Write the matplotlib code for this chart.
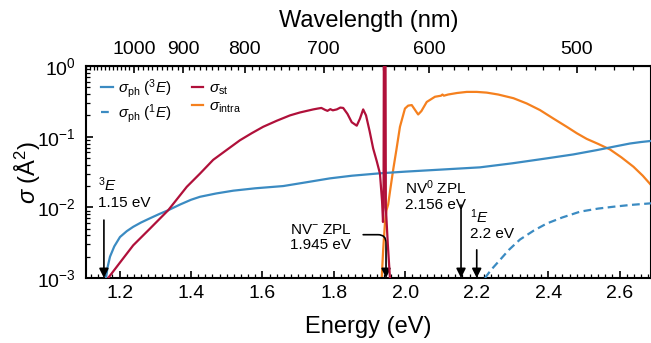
import numpy as np
import matplotlib
matplotlib.use("Agg")
import matplotlib.pyplot as plt
from matplotlib.ticker import MultipleLocator, LogLocator, NullFormatter

plt.rcParams['font.family'] = ['Liberation Sans', 'DejaVu Sans']
plt.rcParams['mathtext.fontset'] = 'custom'
plt.rcParams['mathtext.rm'] = 'Liberation Sans'
plt.rcParams['mathtext.it'] = 'Liberation Sans:italic'
plt.rcParams['mathtext.bf'] = 'Liberation Sans:bold'

# ---- data ----
ph3_E = [1.162, 1.166, 1.173, 1.185, 1.201, 1.22, 1.238, 1.26, 1.285, 1.31, 1.336, 1.37, 1.4, 1.425,
         1.47, 1.518, 1.58, 1.658, 1.72, 1.789, 1.85, 1.929, 2.0, 2.1, 2.209, 2.3, 2.396, 2.47, 2.536,
         2.583, 2.629, 2.66, 2.688]
ph3_s = [1.0e-3, 1.4e-3, 2.0e-3, 2.8e-3, 3.8e-3, 4.6e-3, 5.3e-3, 6.1e-3, 7.0e-3, 8.0e-3, 9.1e-3, 1.1e-2,
         1.28e-2, 1.41e-2, 1.57e-2, 1.72e-2, 1.86e-2, 2.0e-2, 2.25e-2, 2.57e-2, 2.8e-2, 3.03e-2, 3.2e-2,
         3.42e-2, 3.68e-2, 4.2e-2, 4.93e-2, 5.6e-2, 6.45e-2, 7.2e-2, 8.0e-2, 8.4e-2, 8.7e-2]

ph1_E = [2.223, 2.24, 2.265, 2.29, 2.321, 2.36, 2.396, 2.44, 2.49, 2.54, 2.583, 2.63, 2.688]
ph1_s = [1.0e-3, 1.3e-3, 1.8e-3, 2.5e-3, 3.5e-3, 4.7e-3, 5.9e-3, 7.2e-3, 8.7e-3, 9.6e-3, 1.02e-2,
         1.08e-2, 1.14e-2]

st_E = [1.164, 1.168, 1.2, 1.238, 1.285, 1.336, 1.388, 1.425, 1.462, 1.5, 1.537, 1.57, 1.602, 1.64,
        1.677, 1.705, 1.742, 1.755, 1.765, 1.775, 1.782, 1.79, 1.797, 1.808, 1.818, 1.826, 1.838, 1.85,
        1.864, 1.873, 1.882, 1.89, 1.9, 1.91, 1.92, 1.929, 1.935, 1.9375, 1.939, 1.940, 1.9445,
        1.9455, 1.951, 1.957, 1.96]
st_s = [8e-4, 1.0e-3, 1.63e-3, 2.9e-3, 5.0e-3, 9.1e-3, 1.95e-2, 3.0e-2, 4.7e-2, 6.5e-2, 8.9e-2, 0.112,
        0.138, 0.168, 0.20, 0.22, 0.243, 0.25, 0.255, 0.24, 0.232, 0.245, 0.236, 0.243, 0.258, 0.255,
        0.21, 0.16, 0.143, 0.18, 0.243, 0.2, 0.12, 0.068, 0.045, 0.03, 0.012, 6.2e-3, 1e-2, 2.0, 2.0,
        1e-2, 3e-3, 1e-3, 5e-4]

in_E = [1.933, 1.938, 1.943, 1.947, 1.952, 1.958, 1.966, 1.975, 1.985, 1.999, 2.008, 2.018, 2.027,
        2.036, 2.045, 2.06, 2.083, 2.1, 2.104, 2.108, 2.12, 2.145, 2.172, 2.2, 2.228, 2.26, 2.303, 2.34,
        2.377, 2.415, 2.452, 2.48, 2.508, 2.54, 2.573, 2.605, 2.639, 2.665, 2.688]
in_s = [8e-4, 2.5e-3, 6e-3, 9e-3, 1.1e-2, 1.8e-2, 3.4e-2, 6.5e-2, 0.138, 0.25, 0.275, 0.28, 0.24,
        0.206, 0.23, 0.31, 0.367, 0.38, 0.395, 0.38, 0.395, 0.415, 0.43, 0.43, 0.42, 0.395, 0.35, 0.295,
        0.238, 0.18, 0.138, 0.112, 0.093, 0.079, 0.066, 0.051, 0.0375, 0.028, 0.0207]

wl_major = [1000, 900, 800, 700, 600, 500]
wl_minor = list(range(450, 1130, 10))

blue = '#3b8bc2'
red = '#b0103a'
orange = '#f5801e'

fig = plt.figure(figsize=(6.51, 3.43), dpi=100)
ax = fig.add_axes([85.7/651, 1-278/343, (651-85.7)/651, 212/343])

ax.plot(ph3_E, ph3_s, color=blue, lw=1.6, label=r'$\sigma_{\rm ph}$ ($^3E$)', zorder=3)
ax.plot(ph1_E, ph1_s, color=blue, lw=1.6, ls=(0, (3.5, 2)), label=r'$\sigma_{\rm ph}$ ($^1E$)', zorder=3)
ax.plot(st_E, st_s, color=red, lw=1.6, label=r'$\sigma_{\rm st}$', zorder=4)
ax.plot(in_E, in_s, color=orange, lw=1.6, label=r'$\sigma_{\rm intra}$', zorder=2)

ax.set_yscale('log')
ax.set_xlim(1.105, 2.688)
ax.set_ylim(1e-3, 1)
ax.xaxis.set_major_locator(MultipleLocator(0.2))
ax.xaxis.set_minor_locator(MultipleLocator(0.02))
ax.yaxis.set_major_locator(LogLocator(base=10, numticks=10))
ax.yaxis.set_minor_locator(LogLocator(base=10, subs=np.arange(2, 10), numticks=20))
ax.yaxis.set_minor_formatter(NullFormatter())
ax.tick_params(axis='both', which='major', direction='in', length=5, width=1.2, labelsize=14)
ax.tick_params(axis='x', which='major', pad=5)
ax.tick_params(axis='y', which='major', pad=7)
ax.tick_params(axis='both', which='minor', direction='in', length=2.8, width=0.9)
ax.tick_params(axis='x', top=False)
for s in ax.spines.values():
    s.set_linewidth(1.5)

ax.set_xlabel('Energy (eV)', fontsize=17, labelpad=10)
ax.set_ylabel(r'$\sigma$ (Å$^2$)', fontsize=17, labelpad=-4)

# top wavelength axis
sec = ax.secondary_xaxis('top', functions=(lambda e: 1239.84 / np.maximum(e, 1e-6),
                                           lambda w: 1239.84 / np.maximum(w, 1e-6)))
sec.set_xticks(wl_major)
sec.set_xticklabels([str(w) for w in wl_major])
sec.set_xticks(wl_minor, minor=True)
sec.tick_params(which='major', direction='in', length=5, width=1.2, labelsize=14, pad=6)
sec.tick_params(which='minor', direction='in', length=2.8, width=0.9)
sec.set_xlabel('Wavelength (nm)', fontsize=17, labelpad=10)

leg = ax.legend(ncol=2, loc='upper left', bbox_to_anchor=(0.009, 0.998), frameon=False, fontsize=11,
                handlelength=0.75, handletextpad=0.35, columnspacing=1.3, labelspacing=0.15,
                borderaxespad=0.3)

# annotations
arrowkw = dict(arrowstyle='-|>', color='black', lw=1.2, mutation_scale=14, shrinkA=0, shrinkB=0)
ax.annotate('', xy=(1.156, 1e-3), xytext=(1.156, 6.6e-3), arrowprops=arrowkw)
ax.text(1.140, 9.3e-3, '$^3E$\n1.15 eV', fontsize=11, ha='left', va='bottom', linespacing=1.15)

ax.annotate('', xy=(1.946, 1e-3), xytext=(1.882, 4.1e-3),
            arrowprops=dict(arrowstyle='-|>', color='black', lw=1.2, mutation_scale=14,
                            shrinkA=0, shrinkB=0, connectionstyle='angle,angleA=0,angleB=90,rad=8'))
ax.text(1.678, 2.3e-3, 'NV$^{-}$ ZPL\n1.945 eV', fontsize=11, ha='left', va='bottom', linespacing=1.15)

ax.annotate('', xy=(2.156, 1e-3), xytext=(2.156, 1.08e-2), arrowprops=arrowkw)
ax.text(1.999, 8.5e-3, 'NV$^0$ ZPL\n2.156 eV', fontsize=11, ha='left', va='bottom', linespacing=1.15)

ax.annotate('', xy=(2.2, 1e-3), xytext=(2.2, 2.5e-3), arrowprops=arrowkw)
ax.text(2.181, 3.3e-3, '$^1E$\n2.2 eV', fontsize=11, ha='left', va='bottom', linespacing=1.15)

fig.savefig('out.png', dpi=100)
